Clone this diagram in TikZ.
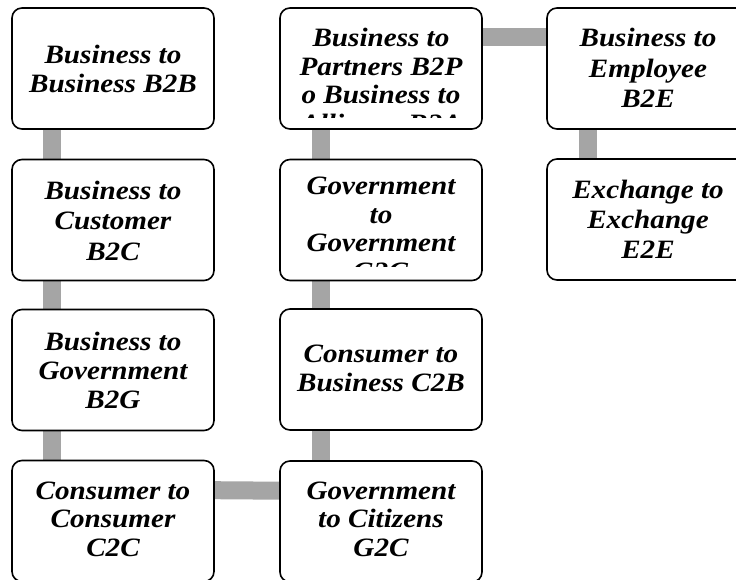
\documentclass[tikz,border=0pt]{standalone}
\usepackage{fontspec}
\setmainfont{Liberation Serif}
\newfontfamily\boxfont[FakeStretch=1.1]{Liberation Serif}
\usetikzlibrary{backgrounds}
\definecolor{connGray}{HTML}{A5A5A5}
\begin{document}
\begin{tikzpicture}[x=1pt,y=-1pt,
  box/.style={draw=black, line width=1.6pt, fill=white, rounded corners=10pt,
              minimum width=202pt, minimum height=121pt, inner sep=0pt},
  conn/.style={draw=connGray, line width=18pt},
  lbl/.style={align=center, inner sep=0pt, text=black,
              font=\boxfont\fontsize{26.5}{#1}\selectfont\bfseries\itshape},
  lbl/.default=29]
\useasboundingbox (0,0) rectangle (736,580);
% boxes
\node[box] (b2b) at (113,68.5) {};
\node[box] (b2c) at (113,220) {};
\node[box] (b2g) at (113,370) {};
\node[box] (c2c) at (113,521) {};
\node[box] (b2p) at (381,68.5) {};
\node[box] (g2g) at (381,220) {};
\node[box] (c2b) at (381,369.5) {};
\node[box] (g2c) at (381,521.5) {};
\node[box] (b2e) at (648,68.5) {};
\node[box] (e2e) at (648,219.5) {};
% connectors
\begin{pgfonlayer}{background}
\draw[conn] ([xshift=41pt]b2b.south west) -- ([xshift=41pt]b2c.north west);
\draw[conn] ([xshift=41pt]b2c.south west) -- ([xshift=41pt]b2g.north west);
\draw[conn] ([xshift=41pt]b2g.south west) -- ([xshift=41pt]c2c.north west);
\draw[conn] ([yshift=-30.5pt]c2c.north east) -- ([yshift=-30.5pt]g2c.north west);
\draw[conn] ([xshift=42pt]g2c.north west) -- ([xshift=42pt]c2b.south west);
\draw[conn] ([xshift=42pt]c2b.north west) -- ([xshift=42pt]g2g.south west);
\draw[conn] ([xshift=42pt]g2g.north west) -- ([xshift=42pt]b2p.south west);
\draw[conn] ([yshift=-30pt]b2p.north east) -- ([yshift=-30pt]b2e.north west);
\draw[conn] ([xshift=41.5pt]b2e.south west) -- ([xshift=41.5pt]e2e.north west);
\end{pgfonlayer}
% texts
\node[lbl=29.4] (tb2b) at (113,69) {Business to\\Business B2B};
\node[lbl=30.5] (tb2c) at (113,220.5) {Business to\\Customer\\B2C};
\node[lbl=29] (tb2g) at (113,370.2) {Business to\\Government\\B2G};
\node[lbl=28.3] (tc2c) at (113,519.3) {Consumer to\\Consumer\\C2C};
\node[lbl=29] (tc2b) at (381,368.2) {Consumer to\\Business C2B};
\node[lbl=28.5] (tg2c) at (381,519) {Government\\to Citizens\\G2C};
\node[lbl=30.3] (tb2e) at (648,68) {Business to\\Employee\\B2E};
\node[lbl=30] (te2e) at (648,219.3) {Exchange to\\Exchange\\E2E};
\begin{scope}
\clip (280,10) rectangle (482,118);
\node[lbl=28.6, anchor=north] (tb2p) at (381,28) {Business to\\Partners B2P\\o Business to\\Alliance B2A};
\end{scope}
\begin{scope}
\clip (280,161) rectangle (482,266.5);
\node[lbl=28.6, anchor=north] (tg2g) at (381,177) {Government\\to\\Government\\G2G};
\end{scope}
\end{tikzpicture}
\end{document}
